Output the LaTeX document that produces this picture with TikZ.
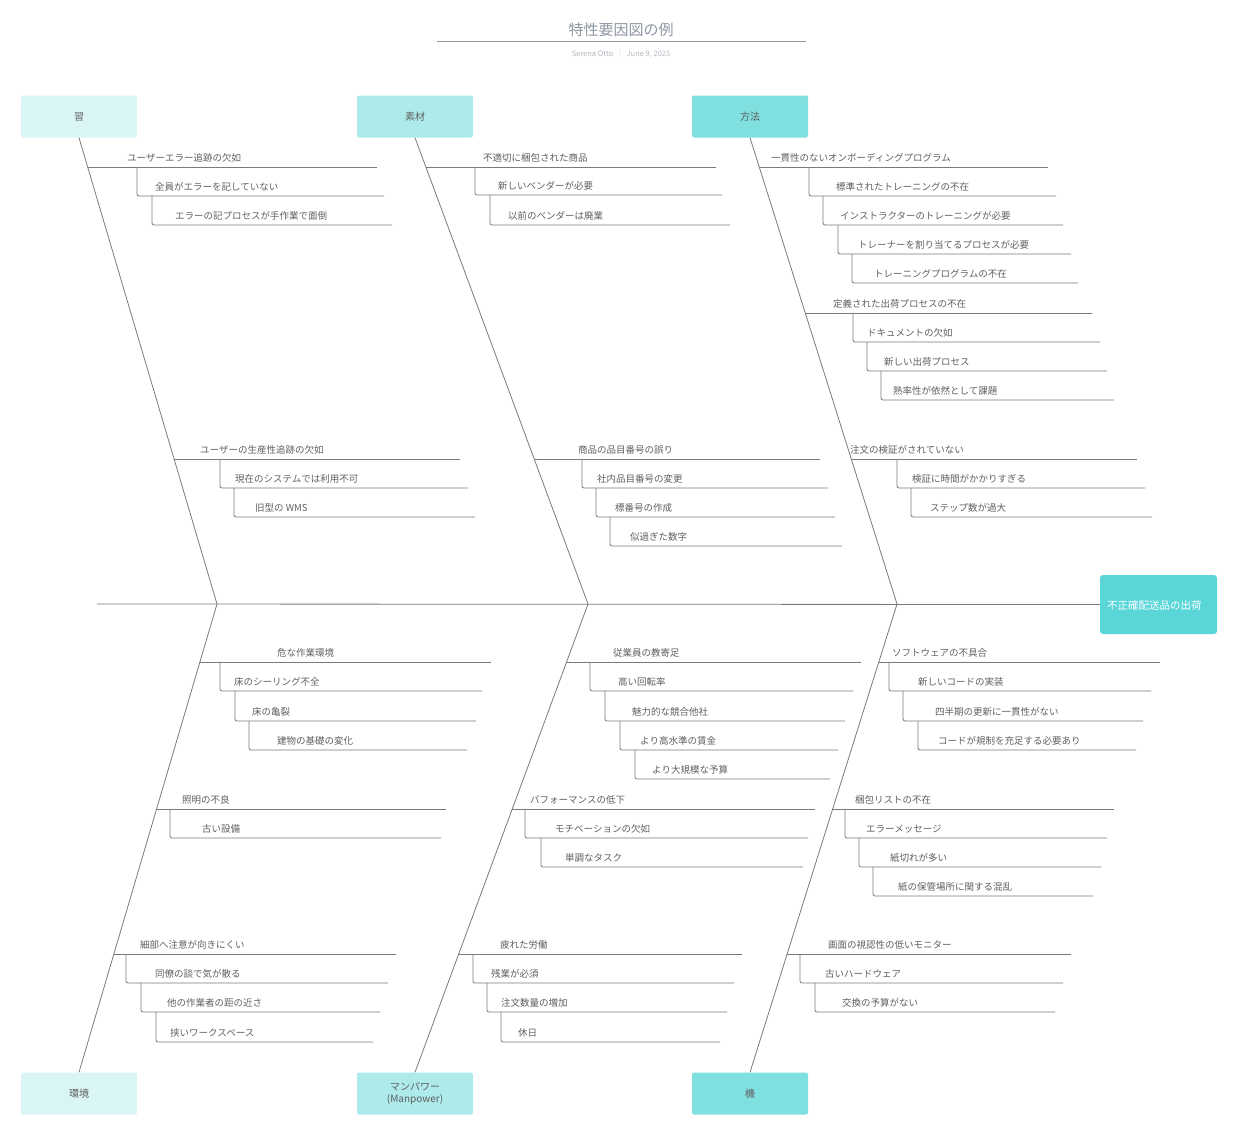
\documentclass[tikz,border=0pt]{standalone}
\usepackage{fontspec}
\setmainfont{Noto Sans CJK JP}
\usetikzlibrary{positioning}
\definecolor{txtgray}{HTML}{5F5F5F}
\definecolor{linegray}{HTML}{7A7A7A}
\definecolor{boxa}{HTML}{DAF5F5}
\definecolor{boxb}{HTML}{AEEAEA}
\definecolor{boxc}{HTML}{80DFDF}
\definecolor{headcol}{HTML}{5AD6D9}
\definecolor{titlegray}{HTML}{8E96A2}
\tikzset{
  catbox/.style={rounded corners=2pt,minimum width=116pt,minimum height=42pt,
    text=txtgray,font=\fontsize{10}{12}\selectfont,align=center,inner sep=0pt},
  bone/.style={draw=linegray,line width=0.8pt},
  causetext/.style={anchor=west,inner sep=0pt,text=txtgray,font=\fontsize{9.5}{11}\selectfont},
}
% main cause: start x, end x, line y, text x, text
\newcommand{\mcause}[5]{%
  \draw[bone] (#1,#3) -- (#2,#3);
  \node[causetext] at (#4,#3-9) {#5};}
% sub cause: vertical x, parent y, line y, end x, text x, text
\newcommand{\scause}[6]{%
  \draw[bone,rounded corners=2pt] (#1,#2) |- (#4,#3);
  \node[causetext] at (#5,#3-9) {#6};}
\begin{document}
\begin{tikzpicture}[x=1pt,y=-1pt]
  \useasboundingbox (0,0) rectangle (1258,1146);
  % title
  \node[text=titlegray,font=\fontsize{15}{18}\selectfont] (title) at (621,30) {特性要因図の例};
  \draw[titlegray,line width=0.8pt] (437,41) -- (806,41);
  \node[text=titlegray!70,font=\fontsize{7.5}{9}\selectfont] (sub) at (621,54) {Serena Otto \,│\, June 9, 2025};
  % category boxes
  \node[catbox,fill=boxa] (cA) at (79,116.5) {習};
  \node[catbox,fill=boxb] (cB) at (415,116.5) {素材};
  \node[catbox,fill=boxc] (cC) at (750,116.5) {方法};
  \node[catbox,fill=boxa] (cD) at (79,1093.5) {環境};
  \node[catbox,fill=boxb] (cE) at (415,1093.5) {マンパワー\\(Manpower)};
  \node[catbox,fill=boxc] (cF) at (750,1093.5) {機};
  % head
  \node[rounded corners=3pt,fill=headcol,minimum width=117pt,minimum height=59pt] (head) at (1158.5,604.5) {};
  \begin{scope}
    \clip (head.south west) rectangle (head.north east);
    \node[anchor=west,text=white,font=\fontsize{10.5}{12}\selectfont,inner sep=0pt] at (1107,605) {不正確配送品の出荷};
  \end{scope}
  % spine and bones
  \coordinate (s1) at (217,604);
  \coordinate (s2) at (588,604);
  \coordinate (s3) at (897,604);
  \coordinate (s0) at (97,604);
  \draw[bone] (s0) -- (head.west);
  \draw[bone] (cA.south) -- (s1) -- (cD.north);
  \draw[bone] (cB.south) -- (s2) -- (cE.north);
  \draw[bone] (cC.south) -- (s3) -- (cF.north);
  % top left
  \mcause{87.6}{377}{167}{127}{ユーザーエラー追跡の欠如}
  \scause{137}{167}{196}{384}{155}{全員がエラーを記していない}
  \scause{152}{196}{225}{392}{175}{エラーの記プロセスが手作業で面倒}
  \mcause{174}{460}{459}{200}{ユーザーの生産性追跡の欠如}
  \scause{220}{459}{488}{468}{235}{現在のシステムでは利用不可}
  \scause{234}{488}{517}{475}{255}{旧型の WMS}
  % top middle
  \mcause{425.8}{716}{167}{483}{不適切に梱包された商品}
  \scause{475}{167}{195}{722}{498}{新しいベンダーが必要}
  \scause{490}{195}{225}{730}{508}{以前のベンダーは廃業}
  \mcause{534}{820}{459}{578}{商品の品目番号の誤り}
  \scause{582}{459}{488}{828}{597}{社内品目番号の変更}
  \scause{596}{488}{517}{835}{615}{標番号の作成}
  \scause{610}{517}{546}{842}{630}{似過ぎた数字}
  % top right
  \mcause{759}{1048}{167}{771}{一貫性のないオンボーディングプログラム}
  \scause{809}{167}{196}{1056}{836}{標準されたトレーニングの不在}
  \scause{823}{196}{225}{1063}{840}{インストラクターのトレーニングが必要}
  \scause{838}{225}{254}{1071}{858}{トレーナーを割り当てるプロセスが必要}
  \scause{852}{254}{283}{1078}{874}{トレーニングプログラムの不在}
  \mcause{805}{1092}{313}{833}{定義された出荷プロセスの不在}
  \scause{853}{313}{342}{1100}{867}{ドキュメントの欠如}
  \scause{867}{342}{371}{1107}{884}{新しい出荷プロセス}
  \scause{881}{371}{400}{1114}{893}{熟率性が依然として課題}
  \mcause{851}{1137}{459}{850}{注文の検証がされていない}
  \scause{897}{459}{488}{1145}{912}{検証に時間がかかりすぎる}
  \scause{911}{488}{517}{1152}{930}{ステップ数が過大}
  % bottom left
  \mcause{200}{491}{662}{277}{危な作業環境}
  \scause{220}{662}{691}{482}{234}{床のシーリング不全}
  \scause{235}{691}{721}{476}{252}{床の亀裂}
  \scause{249}{721}{750}{467}{277}{建物の基礎の変化}
  \mcause{156.5}{446}{809}{182}{照明の不良}
  \scause{170}{809}{838}{441}{202}{古い設備}
  \mcause{113.8}{396}{954}{140}{細部へ注意が向きにくい}
  \scause{126}{954}{983}{388}{155}{同僚の談で気が散る}
  \scause{141}{983}{1012}{380}{167}{他の作業者の距の近さ}
  \scause{156}{1012}{1042}{373}{170}{挟いワークスペース}
  % bottom middle
  \mcause{566.5}{861}{662}{613}{従業員の教寄足}
  \scause{590}{662}{691}{853}{618}{高い回転率}
  \scause{605}{691}{721}{845}{632}{魅力的な競合他社}
  \scause{620}{721}{750}{838}{640}{より高水準の賃金}
  \scause{635}{750}{779}{830}{652}{より大規模な予算}
  \mcause{512}{815}{809}{530}{パフォーマンスの低下}
  \scause{525}{809}{838}{808}{555}{モチベーションの欠如}
  \scause{541}{838}{867}{803}{565}{単調なタスク}
  \mcause{458.5}{742}{954}{500}{疲れた労働}
  \scause{473}{954}{983}{734}{491}{残業が必須}
  \scause{487}{983}{1012}{727}{501}{注文数量の増加}
  \scause{501}{1012}{1042}{720}{518}{休日}
  % bottom right
  \mcause{878.8}{1160}{662}{892}{ソフトウェアの不具合}
  \scause{889}{662}{691}{1151}{918}{新しいコードの実装}
  \scause{903}{691}{721}{1143}{935}{四半期の更新に一貫性がない}
  \scause{918}{721}{750}{1136}{938}{コードが規制を充足する必要あり}
  \mcause{832.6}{1114}{809}{855}{梱包リストの不在}
  \scause{845}{809}{838}{1107}{866}{エラーメッセージ}
  \scause{859}{838}{867}{1101}{890}{紙切れが多い}
  \scause{873}{867}{896}{1093}{898}{紙の保管場所に関する混乱}
  \mcause{787}{1071}{954}{828}{画面の視認性の低いモニター}
  \scause{800}{954}{983}{1063}{825}{古いハードウェア}
  \scause{815}{983}{1012}{1055}{842}{交換の予算がない}
\end{tikzpicture}
\end{document}
